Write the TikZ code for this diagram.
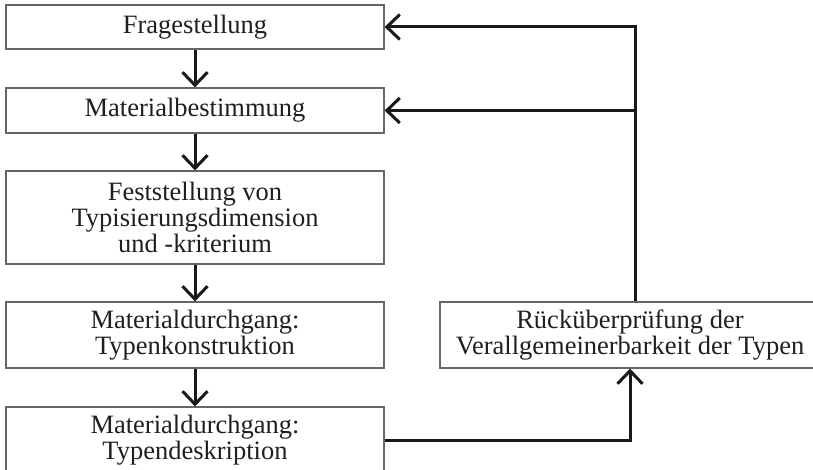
\documentclass[tikz,border=0pt]{standalone}
\usepackage{fontspec}
\setmainfont{Liberation Serif}
\usetikzlibrary{arrows.meta}

\begin{document}
\begin{tikzpicture}[x = 1pt, y = -1pt, > = {Straight Barb[length = 13pt, width = 25pt]},
	box/.style = {draw = black!60, line width = 1.2pt, inner sep = 0pt, align = center, minimum width = 378pt, text = black!88, font = \fontsize{26.5}{26}\selectfont},
	flow/.style = {->, line width = 3pt, draw = black!90}]

	% Frame
	
	\useasboundingbox (0, 0) rectangle (813, 470);
	\clip (0, 0) rectangle (813, 470);

	% Steps
	
	\node [box, minimum height = 44pt] (frage) at (195, 27) {Fragestellung};
	\node [box, minimum height = 45pt] (bestimmung) at (195, 110.5) {Materialbestimmung};
	\node [box, minimum height = 93pt] (kriterium) at (195, 217.5) {Feststellung von\\Typisierungsdimension\\und -kriterium};
	\node [box, minimum height = 66pt] (konstruktion) at (195, 335) {Materialdurchgang:\\Typenkonstruktion};
	\node [box, minimum height = 66pt] (deskription) at (195, 440) {Materialdurchgang:\\Typendeskription};
	\node [box, minimum height = 66pt, minimum width = 380pt] (pruefung) at (630, 335) {Rücküberprüfung der\\Verallgemeinerbarkeit der Typen};
	
	% Flow
	
	\foreach \from/\to in {frage/bestimmung, bestimmung/kriterium, kriterium/konstruktion, konstruktion/deskription}
		\draw [flow] (\from.south) -- (\to.north);
	
	% Feedback
	
	\coordinate (turn) at ([xshift = 5pt] pruefung.north);
	\draw [flow] (turn) |- (frage.east);
	\draw [flow] (turn |- bestimmung.east) -- (bestimmung.east);
	\draw [flow] (deskription.east) -| (pruefung.south);
	
\end{tikzpicture}
\end{document}
